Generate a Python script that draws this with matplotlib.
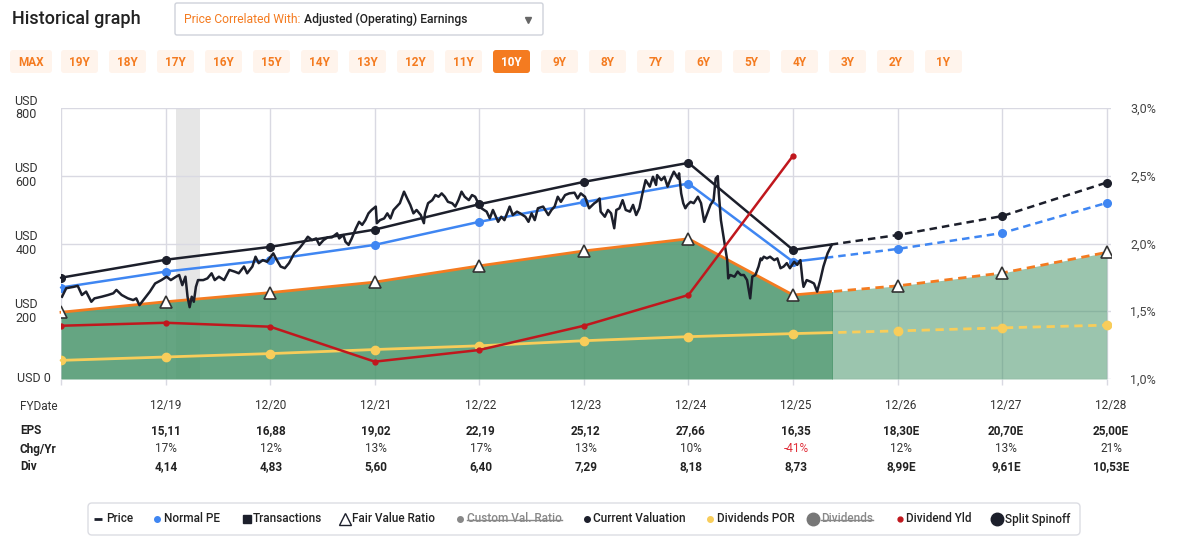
import numpy as np
import matplotlib
matplotlib.use("Agg")
import matplotlib.pyplot as plt
import matplotlib.transforms as mtransforms
from matplotlib.patches import FancyBboxPatch, Rectangle
from matplotlib.ticker import FuncFormatter

plt.rcParams['font.family'] = ['Roboto', 'DejaVu Sans']

W, H = 1183, 542

# fiscal year positions: 0 = 12/18 ... 10 = 12/28
fy_labels = ['12/19', '12/20', '12/21', '12/22', '12/23', '12/24', '12/25', '12/26', '12/27', '12/28']
eps = [15.11, 16.88, 19.02, 22.19, 25.12, 27.66, 16.35, 18.30, 20.70, 25.00]
chg_yr = [17, 12, 13, 17, 13, 10, -41, 12, 13, 21]
div = [4.14, 4.83, 5.60, 6.40, 7.29, 8.18, 8.73, 8.99, 9.61, 10.53]
n_estimates = 3  # last three years are estimates

current_val = [299, 352, 390, 441, 516, 582, 638, 381, 425, 481, 580]
normal_pe = [270, 317, 352, 396, 464, 522, 577, 346, 384, 431, 520]
fair_value = [197, 228, 255, 286, 334, 378, 414, 248, 275, 313, 374]
div_por = [55, 65, 75, 87, 98, 113, 125, 134, 142, 151, 159]
div_yld = [1.393, 1.415, 1.386, 1.128, 1.214, 1.393, 1.62, 2.648]  # right axis, %

today = 7.37
recession = (1.095, 1.333)

# price, years since 12/18
price_t = [0.01, 0.05, 0.12, 0.16, 0.20, 0.24, 0.29, 0.32, 0.39, 0.45, 0.50, 0.53, 0.58, 0.64, 0.69, 0.72,
           0.75, 0.80, 0.85, 0.90, 0.96, 1.01, 1.05, 1.10, 1.13, 1.16, 1.19, 1.21, 1.23, 1.25, 1.27, 1.29,
           1.31, 1.36, 1.40, 1.44, 1.47, 1.51, 1.56, 1.61, 1.66, 1.70, 1.75, 1.78, 1.83, 1.86, 1.89, 1.93,
           1.97, 2.01, 2.03, 2.06, 2.10, 2.14, 2.18, 2.23, 2.28, 2.32, 2.36, 2.40, 2.44, 2.47, 2.51, 2.55,
           2.59, 2.64, 2.66, 2.70, 2.72, 2.75, 2.78, 2.82, 2.85, 2.88, 2.91, 2.94, 2.97, 3.01, 3.02, 3.05,
           3.09, 3.12, 3.15, 3.18, 3.21, 3.24, 3.28, 3.31, 3.34, 3.37, 3.40, 3.44, 3.47, 3.48, 3.51, 3.55,
           3.58, 3.61, 3.64, 3.67, 3.70, 3.74, 3.77, 3.80, 3.83, 3.86, 3.90, 3.93, 3.96, 3.99, 4.02, 4.07,
           4.10, 4.13, 4.18, 4.21, 4.24, 4.29, 4.32, 4.36, 4.39, 4.44, 4.47, 4.50, 4.53, 4.56, 4.61, 4.66,
           4.69, 4.72, 4.75, 4.78, 4.82, 4.86, 4.91, 4.94, 4.97, 5.01, 5.05, 5.10, 5.12, 5.15, 5.16, 5.20,
           5.23, 5.26, 5.29, 5.31, 5.34, 5.37, 5.40, 5.44, 5.47, 5.50, 5.53, 5.56, 5.59, 5.63, 5.66, 5.69,
           5.70, 5.74, 5.77, 5.80, 5.83, 5.86, 5.90, 5.91, 5.93, 5.95, 5.97, 5.99, 6.02, 6.05, 6.09, 6.12,
           6.15, 6.18, 6.21, 6.24, 6.26, 6.28, 6.29, 6.31, 6.34, 6.37, 6.38, 6.40, 6.44, 6.47, 6.50, 6.53,
           6.56, 6.59, 6.61, 6.64, 6.67, 6.69, 6.70, 6.72, 6.75, 6.78, 6.82, 6.85, 6.88, 6.91, 6.94, 6.97,
           7.01, 7.04, 7.07, 7.09, 7.10, 7.13, 7.17, 7.20, 7.23, 7.26, 7.29, 7.33, 7.37]
price_v = [243, 268, 272, 275, 248, 258, 228, 238, 243, 248, 253, 263, 248, 238, 233, 238,
           218, 238, 258, 282, 292, 302, 292, 302, 307, 277, 302, 243, 212, 243, 228, 272,
           292, 292, 297, 312, 292, 302, 292, 322, 317, 312, 332, 312, 332, 361, 342, 351,
           346, 363, 371, 353, 332, 327, 342, 371, 386, 402, 420, 410, 415, 396, 410, 418,
           418, 430, 415, 425, 405, 396, 415, 445, 464, 455, 469, 489, 499, 509, 460, 469,
           474, 489, 474, 499, 509, 519, 553, 533, 514, 489, 499, 484, 460, 489, 519, 528,
           543, 538, 548, 538, 523, 519, 509, 528, 553, 538, 528, 543, 538, 519, 504, 494,
           474, 499, 464, 479, 469, 509, 484, 494, 489, 479, 464, 489, 469, 504, 509, 484,
           499, 509, 538, 523, 543, 548, 550, 533, 548, 538, 504, 519, 523, 533, 494, 479,
           499, 489, 445, 499, 504, 528, 499, 494, 514, 484, 504, 548, 587, 568, 597, 573,
           602, 587, 597, 568, 592, 612, 592, 607, 548, 519, 504, 514, 523, 519, 538, 519,
           464, 489, 514, 528, 592, 599, 548, 469, 410, 351, 297, 307, 302, 317, 307, 307,
           292, 238, 302, 307, 332, 356, 351, 361, 356, 361, 351, 356, 327, 332, 342, 327,
           346, 337, 351, 292, 272, 292, 287, 282, 258, 292, 332, 371, 396]

C_BLACK = '#1c1f2b'
C_BLUE = '#3f86f2'
C_ORANGE = '#f47b20'
C_RED = '#c0171d'
C_YELLOW = '#f8cd5a'
C_GREEN = '#4a966c'
C_GRID = '#d9d9e2'
C_TEXT = '#222222'


def fmt_num(v):
    return '{:.2f}'.format(v).replace('.', ',')


fig = plt.figure(figsize=(W / 100, H / 100), dpi=100)
ax = fig.add_axes([61 / W, 1 - 379 / H, 1050 / W, 271 / H])
ax2 = ax.twinx()

x = np.arange(11)
ax.set_xlim(0, 10.04)
ax.set_ylim(0, 800)
ax2.set_ylim(1.0, 3.0)

for s in ax.spines.values():
    s.set_visible(False)
for s in ax2.spines.values():
    s.set_visible(False)

ax.set_xticks(x)
ax.set_xticklabels([])
ax.tick_params(axis='x', length=4, color=C_GRID, width=1)
ax.set_yticks([0, 200, 400, 600, 800])
ax.set_yticklabels([])
ax.tick_params(axis='y', length=0)
ax.grid(True, color=C_GRID, linewidth=1, zorder=0)
ax.set_axisbelow(True)

ax2.set_yticks([1.0, 1.5, 2.0, 2.5, 3.0])
ax2.yaxis.set_major_formatter(FuncFormatter(lambda v, p: '{:.1f}%'.format(v).replace('.', ',')))
ax2.tick_params(axis='y', length=0, pad=14, labelsize=9, labelcolor='#444444')

# left axis labels
tr = mtransforms.blended_transform_factory(fig.transFigure, ax.transData)
for v in [200, 400, 600, 800]:
    fig.text(26 / W, v, 'USD\n{}'.format(v), transform=tr, ha='center', va='center',
             fontsize=9, color='#333333', linespacing=1.05)
fig.text(34 / W, 0, 'USD 0', transform=tr, ha='center', va='center', fontsize=9, color='#333333')

# recession band
ax.axvspan(recession[0], recession[1], color='#e6e6e6', zorder=0.5, lw=0)


# clip rectangles for actual / forecast parts
def past_clip():
    return Rectangle((-1, -0.1), today + 1, 1.2, transform=ax.get_xaxis_transform())


def future_clip():
    return Rectangle((today, -0.1), 20, 1.2, transform=ax.get_xaxis_transform())


def split_line(axis, xs, ys, color, lw, z, marker='o', ms=4.5):
    l1, = axis.plot(xs, ys, color=color, lw=lw, zorder=z, solid_capstyle='round')
    l1.set_clip_path(past_clip())
    l2, = axis.plot(xs, ys, color=color, lw=lw, zorder=z, dashes=(3, 2))
    l2.set_clip_path(future_clip())
    axis.plot(xs, ys, ls='none', marker=marker, ms=ms, color=color, zorder=z + 0.1)


# fair value area
f1 = ax.fill_between(x, 0, fair_value, color=C_GREEN, alpha=0.85, lw=0, zorder=1)
f1.set_clip_path(past_clip())
f2 = ax.fill_between(x, 0, fair_value, color=C_GREEN, alpha=0.55, lw=0, zorder=1)
f2.set_clip_path(future_clip())
l1, = ax.plot(x, fair_value, color=C_ORANGE, lw=2, zorder=2)
l1.set_clip_path(past_clip())
l2, = ax.plot(x, fair_value, color=C_ORANGE, lw=2, zorder=2, dashes=(3, 2))
l2.set_clip_path(future_clip())

split_line(ax, x, div_por, C_YELLOW, 2, 3, ms=6)
split_line(ax, x, normal_pe, C_BLUE, 1.8, 4, ms=5.5)
split_line(ax, x, current_val, C_BLACK, 1.8, 5, ms=5.5)

ax.plot(price_t, price_v, color=C_BLACK, lw=1.8, zorder=6)

ax.plot(x, fair_value, ls='none', marker='^', ms=8, mfc='white', mec='#333333', mew=1.2, zorder=7)

ax2.plot(x[:len(div_yld)], div_yld, color=C_RED, lw=1.8, marker='o', ms=3.5, zorder=8)

# overlay in pixel coordinates
ov = fig.add_axes([0, 0, 1, 1], zorder=-1)
ov.set_xlim(0, W)
ov.set_ylim(H, 0)
ov.axis('off')

ov.text(12, 19, 'Historical graph', fontsize=13, fontweight='medium', color=C_TEXT, va='center')
ov.add_patch(FancyBboxPatch((175, 3), 368, 32, boxstyle='round,pad=0,rounding_size=2',
                            fc='white', ec='#cfd2da', lw=1))
ov.text(184, 19.5, 'Price Correlated With: ', fontsize=8.7, color=C_ORANGE, va='center')
ov.text(304, 19.5, 'Adjusted (Operating) Earnings', fontsize=8.7, fontweight='medium',
        color=C_TEXT, va='center')
ov.plot([528], [19.5], marker='v', ms=5, color='#666666', ls='none')

buttons = ['MAX'] + ['{}Y'.format(i) for i in range(19, 0, -1)]
for i, b in enumerate(buttons):
    if i == 0:
        bx, bw = 10, 42
    else:
        bx, bw = 61 + (i - 1) * 48, 37
    selected = b == '10Y'
    ov.add_patch(FancyBboxPatch((bx, 50), bw, 23, boxstyle='round,pad=0,rounding_size=3',
                                fc=C_ORANGE if selected else '#fff4ec', ec='none'))
    ov.text(bx + bw / 2, 62, b, ha='center', va='center', fontsize=8.5, fontweight='bold',
            color='white' if selected else C_ORANGE)

# table below chart
col_x = [166 + 105 * i for i in range(10)]
ov.text(20, 406, 'FYDate', fontsize=8.5, color='#333333', va='center')
ov.text(20, 431, 'EPS', fontsize=8.5, fontweight='bold', color=C_TEXT, va='center')
ov.text(20, 449, 'Chg/Yr', fontsize=8.5, fontweight='bold', color=C_TEXT, va='center')
ov.text(20, 467, 'Div', fontsize=8.5, fontweight='bold', color=C_TEXT, va='center')
for i, cx in enumerate(col_x):
    est = 'E' if i >= len(col_x) - n_estimates else ''
    ov.text(cx, 406, fy_labels[i], ha='center', va='center', fontsize=8.5, color='#333333')
    ov.text(cx, 431, fmt_num(eps[i]) + est, ha='center', va='center', fontsize=8.5,
            fontweight='bold', color=C_TEXT)
    ov.text(cx, 449, '{}%'.format(chg_yr[i]), ha='center', va='center', fontsize=8.5,
            color='#e0303a' if chg_yr[i] < 0 else '#333333')
    ov.text(cx, 467, fmt_num(div[i]) + est, ha='center', va='center', fontsize=8.5,
            fontweight='bold', color=C_TEXT)

# legend
ov.add_patch(FancyBboxPatch((88, 503), 992, 32, boxstyle='round,pad=0,rounding_size=4',
                            fc='white', ec='#dcdde3', lw=1))
ly = 519
legend_items = [
    ('Price', 98, 106, dict(marker='_', ms=6, mew=2, color=C_BLACK), False),
    ('Normal PE', 157, 164, dict(marker='o', ms=4, color=C_BLUE), False),
    ('Transactions', 247, 253, dict(marker='s', ms=6, color=C_BLACK), False),
    ('Fair Value Ratio', 345, 352, dict(marker='^', ms=8, mfc='white', mec=C_BLACK, mew=1), False),
    ('Custom Val. Ratio', 460, 467, dict(marker='o', ms=4, color='#888888'), True),
    ('Current Valuation', 587, 593, dict(marker='o', ms=4, color=C_BLACK), False),
    ('Dividends POR', 710, 717, dict(marker='o', ms=4, color=C_YELLOW), False),
    ('Dividends', 813, 821, dict(marker='o', ms=9, color='#777777'), True),
    ('Dividend Yld', 900, 906, dict(marker='o', ms=3.5, color=C_RED), False),
    ('Split Spinoff', 997, 1005, dict(marker='o', ms=9, color=C_BLACK), False),
]
fig.canvas.draw()
renderer = fig.canvas.get_renderer()
for label, mx, tx, mk, struck in legend_items:
    ov.plot([mx], [ly], ls='none', **mk)
    t = ov.text(tx, ly, label, va='center', fontsize=8.5, fontweight='medium',
                color='#888888' if struck else C_TEXT)
    if struck:
        bb = t.get_window_extent(renderer)
        ov.plot([tx, tx + bb.width], [ly + 0.5, ly + 0.5], color='#888888', lw=1)

fig.savefig('out.png', dpi=100)
